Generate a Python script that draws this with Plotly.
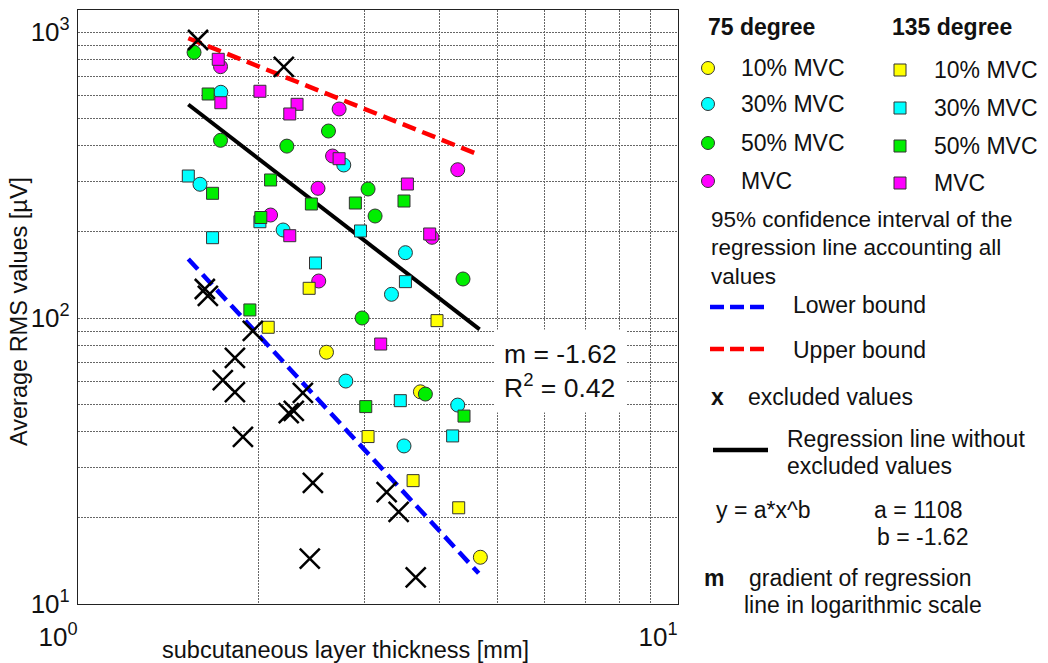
import plotly.graph_objects as go

# ---------------- data ----------------
# 75 degree (circles)
c10_x = [2.595, 3.721, 4.684]
c10_y = [75.9, 55.2, 14.57]
c30_x = [1.730, 1.597, 2.773, 2.197, 3.513, 3.330, 2.795, 4.294, 3.494]
c30_y = [615.5, 293.5, 342.8, 203.1, 169.2, 121.0, 60.2, 49.6, 35.7]
c50_x = [1.561, 1.728, 2.229, 2.615, 3.044, 3.127, 4.382, 2.975, 3.793]
c50_y = [849, 418, 399, 450.6, 282.5, 227.3, 136.9, 100, 54.2]
cmvc_x = [1.728, 2.724, 2.656, 4.294, 2.512, 2.094, 2.519, 3.890]
cmvc_y = [756.5, 538.0, 368.5, 330.0, 284.1, 229.1, 134.7, 191.5]

# 135 degree (squares)
s10_x = [2.428, 2.075, 3.966, 3.044, 3.618, 4.310]
s10_y = [127.0, 92.8, 97.9, 38.5, 27.0, 21.7]
s30_x = [1.527, 1.676, 2.010, 2.488, 2.957, 3.513, 3.445, 4.211]
s30_y = [313.7, 190.9, 217.1, 155.7, 201.5, 134.0, 51.4, 38.7]
s50_x = [1.648, 1.676, 2.094, 2.449, 2.899, 3.494, 2.017, 1.934, 3.017, 4.399]
s50_y = [607.1, 272.9, 303.8, 250.4, 252.4, 256.5, 224.6, 106.7, 49.0, 45.4]
smvc_x = [1.713, 1.730, 2.010, 2.318, 2.254, 2.724, 3.540, 2.254, 3.856, 3.195]
smvc_y = [802.6, 565.9, 620.5, 558.7, 516.9, 360.6, 294.1, 194.0, 196.7, 81.1]

# excluded values (x markers)
ex_x = [1.585, 2.203, 1.627, 1.646, 1.956, 1.826, 1.743, 1.826, 2.370, 2.245,
        2.289, 1.883, 2.463, 3.269, 3.423, 2.434, 3.655]
ex_y = [937.6, 754.6, 126.3, 119.4, 90.1, 72.5, 60.7, 55.1, 54.7, 46.5,
        47.3, 38.4, 26.5, 24.6, 21.0, 14.4, 12.4]

# lines (end points)
reg_x = [1.527, 4.67]
reg_y = [558, 91.2]
up_x = [1.527, 4.67]
up_y = [951, 371.5]
low_x = [1.527, 4.654]
low_y = [160.8, 12.8]

x_tickvals = [1, 2, 3, 4, 5, 6, 7, 8, 9, 10]
x_ticktext = ["10<sup>0</sup>", "", "", "", "", "", "", "", "", "10<sup>1</sup>"]
y_tickvals = [10, 20, 30, 40, 50, 60, 70, 80, 90, 100,
              200, 300, 400, 500, 600, 700, 800, 900, 1000]
y_ticktext = ["10<sup>1</sup>"] + [""] * 8 + ["10<sup>2</sup>"] + [""] * 8 + ["10<sup>3</sup>"]

# ---------------- layout geometry ----------------
W, H = 1048, 663
ML, MR, MT, MB = 78, 370, 10, 59
PW, PH = W - ML - MR, H - MT - MB

def px(x):
    return (x - ML) / PW

def py(y):
    return (H - MB - y) / PH

FONT = "Arial, Liberation Sans, sans-serif"
YEL, CYA, GRN, MAG = "#FFFF00", "#00FFFF", "#00EE00", "#FF00FF"
EDGE = "#333333"
TXT = "#111111"

fig = go.Figure()

fig.add_trace(go.Scatter(x=reg_x, y=reg_y, mode="lines",
                         line=dict(color="black", width=4)))
fig.add_trace(go.Scatter(x=up_x, y=up_y, mode="lines",
                         line=dict(color="#FF0000", width=4.5, dash="14px,7px")))
fig.add_trace(go.Scatter(x=low_x, y=low_y, mode="lines",
                         line=dict(color="#0000FF", width=4.5, dash="14px,7px")))

def circles(x, y, col):
    fig.add_trace(go.Scatter(x=x, y=y, mode="markers",
                             marker=dict(symbol="circle", size=14, color=col,
                                         line=dict(color=EDGE, width=1))))

def squares(x, y, col):
    fig.add_trace(go.Scatter(x=x, y=y, mode="markers",
                             marker=dict(symbol="square", size=12, color=col,
                                         line=dict(color=EDGE, width=1))))

squares(s30_x, s30_y, CYA)
circles(c30_x, c30_y, CYA)
circles(c10_x, c10_y, YEL)
circles(c50_x, c50_y, GRN)
circles(cmvc_x, cmvc_y, MAG)
squares(s10_x, s10_y, YEL)
squares(s50_x, s50_y, GRN)
squares(smvc_x, smvc_y, MAG)

fig.add_trace(go.Scatter(x=ex_x, y=ex_y, mode="markers",
                         marker=dict(symbol="x-thin-open", size=20, color="black",
                                     line=dict(color="black", width=2.5))))

shapes = []
annotations = []

def text(t, x, y, size=23, anchor="left", bold=False, **kw):
    if bold:
        t = "<b>" + t + "</b>"
    annotations.append(dict(text=t, x=px(x), y=py(y), xref="paper", yref="paper",
                            xanchor=anchor, yanchor="middle", showarrow=False,
                            font=dict(family=FONT, size=size, color=TXT), **kw))

# legend headers
text("75 degree", 706, 27, size=23, bold=True)
text("135 degree", 890, 27, size=23, bold=True)

leg_labels = ["10% MVC", "30% MVC", "50% MVC", "MVC"]
leg_cols = [YEL, CYA, GRN, MAG]
circ_y = [68, 104, 143, 181]
sq_y = [70, 108, 146, 183]
for lab, col, cy in zip(leg_labels, leg_cols, circ_y):
    shapes.append(dict(type="circle", xref="paper", yref="paper",
                       xsizemode="pixel", ysizemode="pixel",
                       xanchor=px(708), yanchor=py(cy), x0=-6.5, x1=6.5, y0=-6.5, y1=6.5,
                       fillcolor=col, line=dict(color=EDGE, width=1)))
    text(lab, 739, cy)
for lab, col, cy in zip(leg_labels, leg_cols, sq_y):
    shapes.append(dict(type="rect", xref="paper", yref="paper",
                       xsizemode="pixel", ysizemode="pixel",
                       xanchor=px(900), yanchor=py(cy), x0=-6, x1=6, y0=-6, y1=6,
                       fillcolor=col, line=dict(color=EDGE, width=1)))
    text(lab, 932, cy)

text("95% confidence interval of the", 709, 220, size=22.5)
text("regression line accounting all", 709, 248, size=22.5)
text("values", 709, 276, size=22.5)

def legline(x0, x1, y, col, dash):
    shapes.append(dict(type="line", xref="paper", yref="paper",
                       x0=px(x0), x1=px(x1), y0=py(y), y1=py(y),
                       line=dict(color=col, width=4.5, dash=dash)))

legline(710, 764, 307, "#0000FF", "14px,6px")
text("Lower bound", 791, 305)
legline(710, 767, 349, "#FF0000", "14px,6px")
text("Upper bound", 791, 350)

text("x", 709, 397, bold=True)
text("excluded values", 746, 397)

legline(713, 768, 450, "black", "solid")
text("Regression line without", 785, 439)
text("excluded values", 785, 466)

text("y = a*x^b", 714, 510)
text("a = 1108", 872, 510)
text("b = -1.62", 875, 537)

text("m", 702, 578, bold=True)
text("gradient of regression", 747, 578)
text("line in logarithmic scale", 742, 605)

# m / R^2 box
annotations.append(dict(text="m = -1.62<br>R<sup>2</sup> = 0.42",
                        x=px(560), y=py(371), xref="paper", yref="paper",
                        xanchor="center", yanchor="middle", showarrow=False, align="left",
                        bgcolor="white", borderpad=9,
                        font=dict(family=FONT, size=26.5, color=TXT)))

# axis titles
annotations.append(dict(text="subcutaneous layer thickness [mm]",
                        x=px(345), y=py(650), xref="paper", yref="paper",
                        xanchor="center", yanchor="middle", showarrow=False,
                        font=dict(family=FONT, size=23.5, color=TXT)))
annotations.append(dict(text="Average RMS values [\u00b5V]", textangle=-90,
                        x=px(19), y=py(312), xref="paper", yref="paper",
                        xanchor="center", yanchor="middle", showarrow=False,
                        font=dict(family=FONT, size=23.5, color=TXT)))

grid = dict(showgrid=True, gridcolor="#666666", gridwidth=1, griddash="2px,1px")

fig.update_layout(
    width=W, height=H,
    margin=dict(l=ML, r=MR, t=MT, b=MB, pad=0),
    paper_bgcolor="white", plot_bgcolor="white",
    showlegend=False,
    font=dict(family=FONT, color=TXT),
    shapes=shapes, annotations=annotations,
    xaxis=dict(type="log", range=[0, 1], tickvals=x_tickvals, ticktext=x_ticktext,
               tickfont=dict(size=26, family=FONT, color=TXT),
               ticks="", showline=True, linecolor="#222222", linewidth=1.2, mirror=True,
               zeroline=False, ticklabelshift=-20, ticklabelstandoff=10, **grid),
    yaxis=dict(type="log", range=[1, 1 + PH / 286], tickvals=y_tickvals, ticktext=y_ticktext,
               tickfont=dict(size=26, family=FONT, color=TXT),
               ticks="", showline=True, linecolor="#222222", linewidth=1.2, mirror=True,
               zeroline=False, ticklabelstandoff=2, **grid),
)

fig.write_html("out.html", config={"displayModeBar": False},
               post_script="document.body.style.margin='0px';")
